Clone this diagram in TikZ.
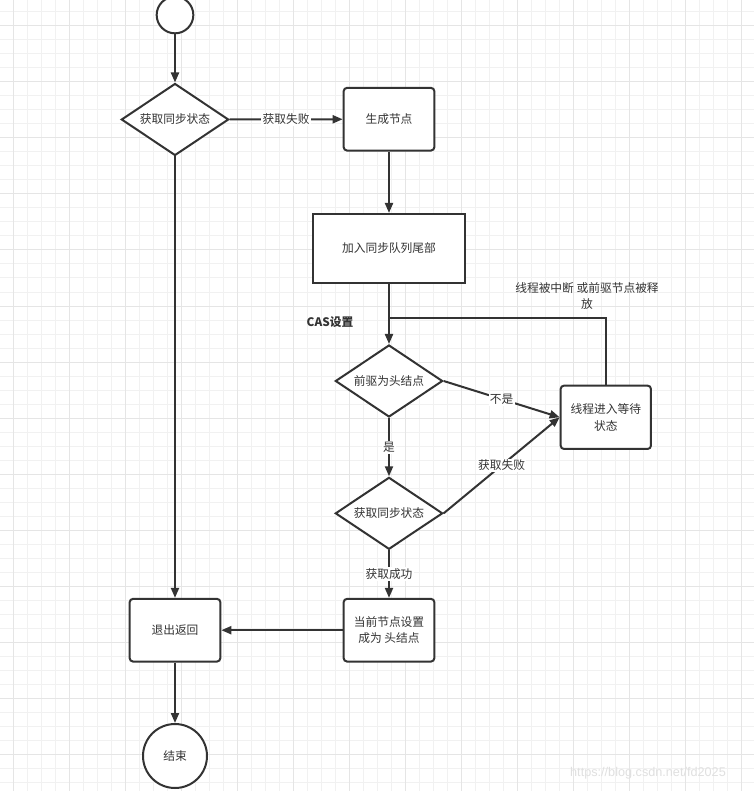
\documentclass[tikz,border=0pt]{standalone}
\usepackage{fontspec}
\setmainfont{Noto Sans CJK SC}
\newfontfamily\markfont{Liberation Sans}
\definecolor{ink}{RGB}{51,51,51}
\definecolor{gridminor}{RGB}{241,241,241}
\definecolor{gridmajor}{RGB}{229,229,229}
\usetikzlibrary{arrows.meta,positioning,shapes.geometric}
\tikzset{
  box/.style={draw=ink,line width=1.5pt,rounded corners=2.5pt,fill=white,align=center,
              text=ink,font=\fontsize{8.8}{12.5}\selectfont,inner sep=2pt,
              minimum width=68pt,minimum height=47pt},
  plainbox/.style={box,sharp corners,minimum width=113.5pt,minimum height=51.5pt},
  decide/.style={diamond,aspect=1.5,draw=ink,line width=1.5pt,fill=white,text=ink,
                 font=\fontsize{8.8}{12.5}\selectfont,inner sep=0pt,
                 minimum width=80.5pt,minimum height=54pt},
  term/.style={circle,draw=ink,line width=1.5pt,fill=white,text=ink,
               font=\fontsize{8.8}{12.5}\selectfont,inner sep=0pt},
  arr/.style={-{Triangle[length=7.5pt,width=6pt]},line width=1.5pt,draw=ink},
  link/.style={line width=1.5pt,draw=ink},
  lbl/.style={font=\fontsize{8.8}{12.5}\selectfont,text=ink,fill=white,inner sep=1pt,align=center},
}
\begin{document}
\begin{tikzpicture}[x=0.75pt,y=-0.75pt]
    \useasboundingbox (0,0) rectangle (754,791);
    \fill[white] (0,0) rectangle (754,791);
    \foreach \gx in {13.5,27.5,...,754} \draw[gridminor,line width=0.75pt] (\gx,0) -- (\gx,791);
    \foreach \gy in {12,26,...,791} \draw[gridminor,line width=0.75pt] (0,\gy) -- (754,\gy);
    \foreach \gx in {13.5,69.5,...,754} \draw[gridmajor,line width=0.75pt] (\gx,0) -- (\gx,791);
    \foreach \gy in {26,82,...,791} \draw[gridmajor,line width=0.75pt] (0,\gy) -- (754,\gy);

    \node[term,minimum size=27.5pt] (start) at (175,15) {};
    \node[decide] (check) at (175,119.5) {获取同步状态};
    \node[box] (newnode) at (389,119.2) {生成节点};
    \node[plainbox] (enqueue) at (389,248.3) {加入同步队列尾部};
    \node[decide] (ishead) at (389,381) {前驱为头结点};
    \node[box,minimum width=67.7pt,minimum height=47.5pt] (park) at (605.8,417.3) {线程进入等待\\状态};
    \node[decide] (retry) at (389,513.3) {获取同步状态};
    \node[box] (sethead) at (389,630.2) {当前节点设置\\成为 头结点};
    \node[box] (leave) at (175,630.2) {退出返回};
    \node[term,minimum size=48pt] (finish) at (175,756) {结束};
    \coordinate (join) at (389,318);

    \node[font=\fontsize{8.8}{12}\selectfont\bfseries,text=ink] (cas) at (330,322) {CAS设置};
    \node[lbl,fill=none] (wake) at (587,296) {线程被中断 或前驱节点被释\\放};

    \draw[arr] (start) -- (check);
    \draw[arr] (check) -- node[lbl]{获取失败} (newnode);
    \draw[arr] (newnode) -- (enqueue);
    \draw[arr] (enqueue) -- (ishead);
    \draw[link] (park.north) |- (join);
    \draw[arr] (ishead.east) -- node[lbl]{不是} (park.west);
    \draw[arr] (ishead) -- node[lbl]{是} (retry);
    \draw[arr] (retry.east) -- node[lbl]{获取失败} (park.west);
    \draw[arr] (retry) -- node[lbl]{获取成功} (sethead);
    \draw[arr] (sethead) -- (leave);
    \draw[arr] (check) -- (leave);
    \draw[arr] (leave) -- (finish);

    \node[font=\markfont\fontsize{9.5}{11}\selectfont,text=black!12] (mark) at (648,773) {https://blog.csdn.net/fd2025};
  \end{tikzpicture}
\end{document}
